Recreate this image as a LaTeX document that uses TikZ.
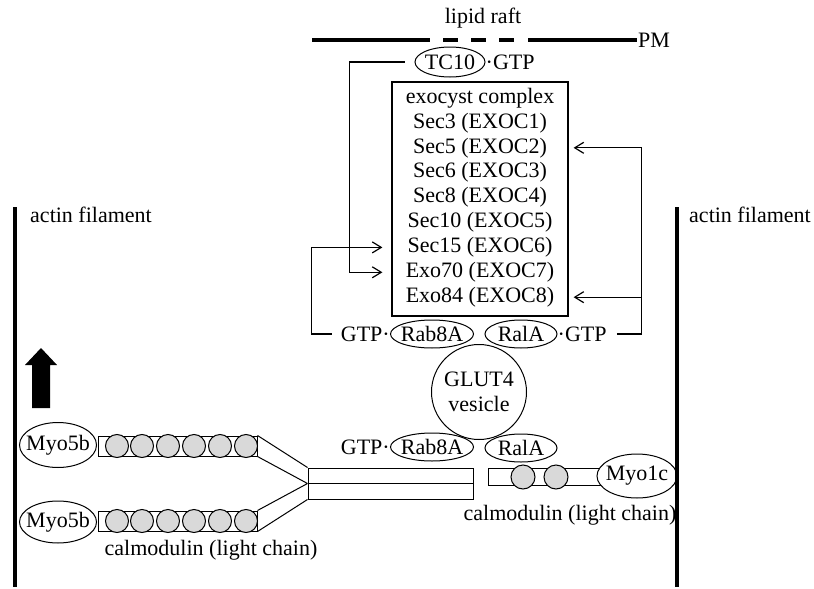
\documentclass[tikz,border=0pt]{standalone}
\usepackage{fontspec}
\setmainfont{Liberation Serif}
\usetikzlibrary{arrows.meta, positioning, shapes.geometric}
\definecolor{cmgray}{RGB}{217,217,217}

\begin{document}
\begin{tikzpicture}[x=1pt, y=-1pt, font=\fontsize{22pt}{25pt}\selectfont,
  prot/.style={draw, ellipse, fill=white, line width=1pt, inner sep=-5pt, minimum height=28pt},
  link/.style={line width=1.2pt, -{Straight Barb[length=9pt, width=11pt]}},
  wire/.style={line width=1pt},
  cmod/.style={draw, circle, fill=cmgray, line width=1pt, minimum size=23pt, inner sep=0pt},
  neck/.style={draw, fill=white, line width=1pt, inner sep=0pt, minimum width=159pt, minimum height=20pt},
  actin/.style={line width=3.5pt},
  pm/.style={line width=3.5pt}]
  \useasboundingbox (0,0) rectangle (814,589);
  % Plasma membrane with lipid raft
  \node (raft) at (483,18) {lipid raft};
  \node[anchor=west, inner sep=1pt] (pmlbl) at (637,40) {PM};
  \draw[pm] (312,40) -- (430,40);
  \draw[pm, dash pattern=on 15pt off 13pt] (443,40) -- (515,40);
  \draw[pm] (528,40) -- (pmlbl.west);
  % TC10
  \node[prot, minimum width=70pt, minimum height=30pt] (tc10) at (450,62) {TC10};
  \node[right=0pt of tc10, inner sep=0pt] (tcgtp) {·GTP};
  % Exocyst complex
  \node[draw, line width=1.2pt, minimum width=176pt, minimum height=234pt] (exo) at (480,199) {};
  \foreach \t [count=\i from 0] in {exocyst complex, Sec3 (EXOC1), Sec5 (EXOC2), Sec6 (EXOC3), Sec8 (EXOC4), Sec10 (EXOC5), Sec15 (EXOC6), Exo70 (EXOC7), Exo84 (EXOC8)}
    \node[inner sep=0pt] (row\i) at (480, {98+24.9*\i}) {\t};
  % GLUT4 vesicle
  \node[draw, circle, line width=1pt, minimum size=95pt, inner sep=0pt, align=center] (glut) at (479,392) {GLUT4\\vesicle};
  \node[prot, minimum width=83pt] (rab1) at (432,334) {Rab8A};
  \node[prot, minimum width=72pt] (ral1) at (521,334) {RalA};
  \node[left=0pt of rab1, inner sep=0pt] (gtp1) {GTP·};
  \node[right=0pt of ral1, inner sep=0pt] (gtp2) {·GTP};
  \node[prot, minimum width=83pt] (rab2) at (432,447) {Rab8A};
  \node[prot, minimum width=72pt] (ral2) at (521,448) {RalA};
  \node[left=0pt of rab2, inner sep=0pt] (gtp3) {GTP·};
  % Arrows to the exocyst
  \draw[link, shorten <=10pt, shorten >=9pt] (tc10.west) -- ++(-65,0) |- (exo.west |- row7);
  \draw[link, shorten <=9pt, shorten >=9pt] (gtp1.west) -- ++(-29,0) |- (exo.west |- row6);
  \draw[link, shorten <=10pt, shorten >=5pt] (gtp2.east) -- ++(35,0) coordinate (rbend) |- (exo.east |- row2);
  \draw[link, shorten >=5pt] (rbend |- row8) -- (exo.east |- row8);
  % Myosin Vb dimer
  \node[draw, line width=1pt, minimum width=165pt, minimum height=31pt, inner sep=0pt] (tail) at (390.5,483.5) {};
  \draw[wire] (tail.west) -- (tail.east);
  \node[neck] (neck1) at (177.5,446) {};
  \node[neck] (neck2) at (177.5,521) {};
  \draw[wire] (neck1.north east) -- (tail.north west) (neck1.south east) -- (tail.west)
    (neck2.north east) -- (tail.west) (neck2.south east) -- (tail.south west);
  \foreach \x [count=\i] in {117,142,168,194,220,246} {
    \node[cmod] (cma\i) at (\x,446) {};
    \node[cmod] (cmb\i) at (\x,521) {};
  }
  \node[prot, minimum width=77pt, minimum height=45pt] (myo1) at (58,445) {Myo5b};
  \node[prot, minimum width=77pt, minimum height=42pt] (myo2) at (58,522) {Myo5b};
  \node (cmlbl1) at (211,550) {calmodulin (light chain)};
  % Myosin Ic
  \node[neck, minimum width=112pt, minimum height=17pt] (neck3) at (544,476.5) {};
  \node[cmod, minimum size=24pt] (cmc1) at (523,477) {};
  \node[cmod, minimum size=24pt] (cmc2) at (556,477) {};
  \node[prot, minimum width=80pt, minimum height=44pt] (myo1c) at (637,476) {Myo1c};
  \node (cmlbl2) at (570,515) {calmodulin (light chain)};
  % Actin filaments
  \draw[actin] (15,207) -- (15,587);
  \draw[actin] (677,207) -- (677,587);
  \node (actl) at (91,215) {actin filament};
  \node (actr) at (750,215) {actin filament};
  % Movement
  \fill (32,408) -- (32,365) -- (25,365) -- (41,348) -- (57,365) -- (50,365) -- (50,408) -- cycle;
\end{tikzpicture}
\end{document}
